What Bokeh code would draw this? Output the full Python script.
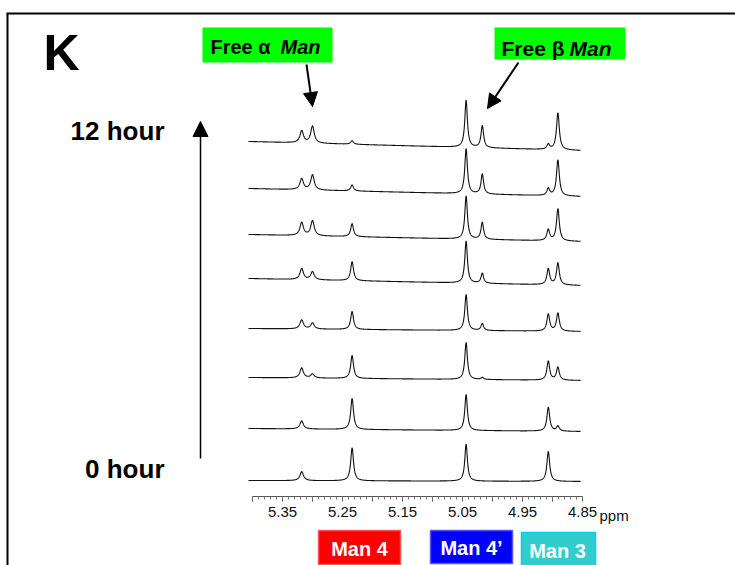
import numpy as np
from bokeh.plotting import figure
from bokeh.models import (Range1d, FixedTicker, Label, Arrow, NormalHead,
                          BoxAnnotation, ColumnDataSource)
from bokeh.embed import file_html
from bokeh.resources import INLINE

# ---------------- data ----------------
# chemical shifts of the resolved anomeric signals (ppm)
peak_ppm = [5.318, 5.300, 5.234, 5.044, 5.017, 4.907, 4.891]
peak_halfwidth = [0.0035, 0.0035, 0.0028, 0.0026, 0.0026, 0.0028, 0.0028]

# peak heights of each spectrum, from 0 hour (bottom) to 12 hour (top)
heights_t0 = [9, 0, 33, 37, 0, 30, 0]
heights_t1 = [8, 0, 31, 36, 0, 24, 5]
heights_t2 = [10, 4, 23, 37, 2, 19, 13]
heights_t3 = [9, 6, 18, 36, 7, 17, 18]
heights_t4 = [11, 8, 19, 42, 10, 16, 22]
heights_t5 = [13, 15, 13, 43, 17, 11, 32]
heights_t6 = [11, 15, 6, 45, 20, 7, 36]
heights_t7 = [12, 17, 3.5, 47, 22, 5, 37]
all_heights = [heights_t0, heights_t1, heights_t2, heights_t3,
               heights_t4, heights_t5, heights_t6, heights_t7]

# stacking offset of each spectrum and baseline drift across the window
spectrum_offset = [16, 68, 119, 168, 218, 262, 308, 355]
baseline_drift = [1, 3, 3, 3, 7, 7, 8, 9]

# spectral window drawn (ppm)
ppm_window = [5.4067, 4.8533]

# axis
major_ticks = [5.40, 5.35, 5.30, 5.25, 5.20, 5.15, 5.10, 5.05, 5.00, 4.95, 4.90, 4.85]
labeled_ticks = [5.35, 5.25, 5.15, 5.05, 4.95, 4.85]
tick_labels = ["5.35", "5.25", "5.15", "5.05", "4.95", "4.85"]
minor_ticks = [round(v / 100.0, 2) for v in range(485, 541)]

# ---------------- figure ----------------
PX_PER_PPM = 600.0
X_LEFT = 5.82
AXIS_PY = 496          # pixel row of the ppm ruler
TICK_OUT = 5
STANDOFF = 5


def X(px):
    return X_LEFT - px / PX_PER_PPM


def Y(py):
    return AXIS_PY - py


p = figure(width=735, height=565,
           x_range=Range1d(X_LEFT, X(735)), y_range=Range1d(Y(565), Y(0)),
           min_border_left=0, min_border_right=0, min_border_top=0,
           min_border_bottom=0,
           toolbar_location=None, output_backend="svg",
           y_axis_location=None)
p.outline_line_color = None
p.xgrid.visible = False
p.ygrid.visible = False
p.background_fill_color = "white"
p.border_fill_color = "white"

ax = p.xaxis[0]
ax.fixed_location = 0
ax.bounds = (4.85, 5.40)
ax.ticker = FixedTicker(ticks=major_ticks, minor_ticks=minor_ticks)
overrides = {}
for t in major_ticks:
    overrides[t] = ""
for t, lab in zip(labeled_ticks, tick_labels):
    overrides[t] = lab
ax.major_label_overrides = overrides
ax.axis_line_color = "#555555"
ax.major_tick_line_color = "#555555"
ax.minor_tick_line_color = "#777777"
ax.major_tick_in = 0
ax.major_tick_out = TICK_OUT
ax.minor_tick_in = 0
ax.minor_tick_out = 3
ax.major_label_standoff = STANDOFF
ax.major_label_text_font = "Liberation Sans"
ax.major_label_text_font_size = "15px"
ax.major_label_text_font_style = "normal"
ax.major_label_text_color = "#111111"

# ---------------- spectra ----------------
xs = np.linspace(ppm_window[0], ppm_window[1], 1400)
frac = (ppm_window[0] - xs) / (ppm_window[0] - ppm_window[1])
for heights, off, drift in zip(all_heights, spectrum_offset, baseline_drift):
    ys = off - drift * frac
    for c, h, w in zip(peak_ppm, heights, peak_halfwidth):
        ys = ys + h / (1.0 + ((xs - c) / w) ** 2)
    src = ColumnDataSource(dict(x=xs, y=ys))
    p.line("x", "y", source=src, line_color="#111111", line_width=1.1)

# ---------------- annotations ----------------
FONT = "Liberation Sans"

# frame of the panel
p.add_layout(Arrow(x_start=X(7), y_start=Y(13), x_end=X(7), y_end=Y(575),
                   line_width=2, line_color="black", end=None))
p.add_layout(Arrow(x_start=X(6), y_start=Y(13), x_end=X(745), y_end=Y(13),
                   line_width=2, line_color="black", end=None))

p.add_layout(Label(x=X(61), y=Y(52), text="K", text_font=FONT,
                   text_font_size="50px", text_font_style="bold",
                   text_color="black",
                   text_align="center", text_baseline="middle"))

p.add_layout(Label(x=X(164), y=Y(130), text="12 hour", text_font=FONT,
                   text_font_size="26px", text_font_style="bold",
                   text_color="black",
                   text_align="right", text_baseline="middle"))
p.add_layout(Label(x=X(164), y=Y(468), text="0 hour", text_font=FONT,
                   text_font_size="26px", text_font_style="bold",
                   text_color="black",
                   text_align="right", text_baseline="middle"))
p.add_layout(Arrow(x_start=X(200), y_start=Y(458), x_end=X(200), y_end=Y(121),
                   line_width=1.5, line_color="black",
                   end=NormalHead(size=15, fill_color="black", line_color="black")))

# Free alpha / beta Man tags
for (l, r, t, b, tx, mx, cy, fs, greek) in [
        (202, 332, 27, 62, 210, 280, 46, "20px", "Free \u03b1"),
        (494, 625, 27, 59, 501, 569, 47.5, "21px", "Free \u03b2")]:
    p.add_layout(BoxAnnotation(left=X(l), right=X(r), top=Y(t), bottom=Y(b),
                               fill_color="#00ff00", fill_alpha=1,
                               line_color=None))
    p.add_layout(Label(x=X(tx), y=Y(cy), text=greek, text_font=FONT,
                       text_font_size=fs, text_font_style="bold",
                       text_color="black",
                       text_align="left", text_baseline="middle"))
    p.add_layout(Label(x=X(mx), y=Y(cy), text="Man", text_font=FONT,
                       text_font_size=fs, text_font_style="bold italic",
                       text_color="black",
                       text_align="left", text_baseline="middle"))

p.add_layout(Arrow(x_start=X(306), y_start=Y(64), x_end=X(312), y_end=Y(106),
                   line_width=2, line_color="black",
                   end=NormalHead(size=14, fill_color="black", line_color="black")))
p.add_layout(Arrow(x_start=X(518), y_start=Y(62), x_end=X(487), y_end=Y(108),
                   line_width=2, line_color="black",
                   end=NormalHead(size=14, fill_color="black", line_color="black")))

# ppm unit next to the last tick label, on the same line as the tick labels
p.add_layout(Label(x=X(599), y=Y(AXIS_PY + TICK_OUT + STANDOFF), text="ppm",
                   text_font=FONT, text_font_size="15px", text_color="#111111",
                   text_align="left", text_baseline="top"))

# residue tags under the axis
for (l, r, t, b, cx, cy, txt, fill, edge) in [
        (318, 400, 530, 564, 359, 548, "Man 4", "#ff0000", "#ff5555"),
        (430, 512, 530, 563, 471, 547, "Man 4\u2019", "#0000ff", "#5555ff"),
        (521, 595, 532, 566, 557, 550, "Man 3", "#33cccc", "#00ccff")]:
    p.add_layout(BoxAnnotation(left=X(l), right=X(r), top=Y(t), bottom=Y(b),
                               fill_color=fill, fill_alpha=1,
                               line_color=edge, line_width=1.5, line_alpha=1))
    p.add_layout(Label(x=X(cx), y=Y(cy), text=txt, text_font=FONT,
                       text_font_size="20px", text_font_style="bold",
                       text_color="white",
                       text_align="center", text_baseline="middle"))

open("out.html", "w").write(file_html(p, INLINE))
